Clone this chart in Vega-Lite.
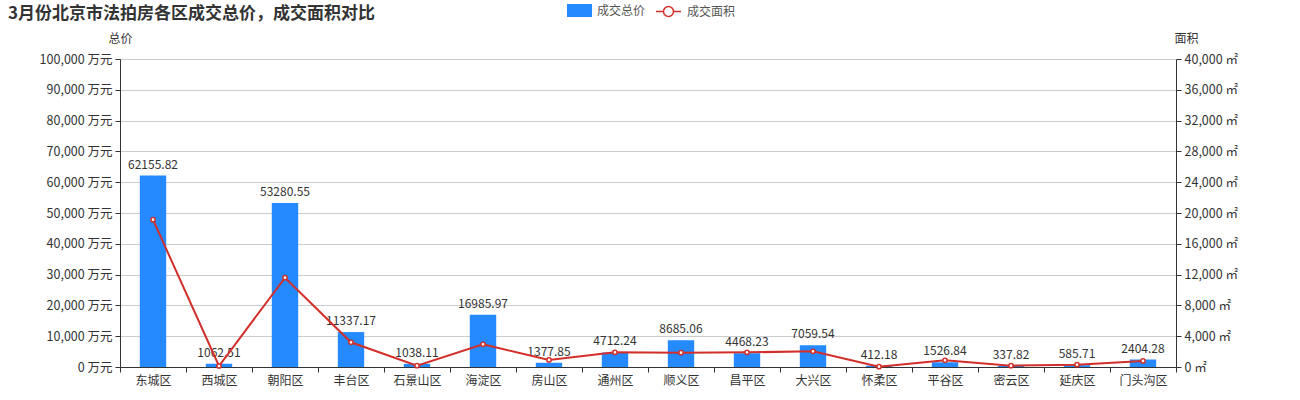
{
  "$schema": "https://vega.github.io/schema/vega-lite/v6.json",
  "width": 1056,
  "height": 308,
  "autosize": "none",
  "padding": {"left": 120, "top": 59, "right": 124, "bottom": 33},
  "background": "white",
  "title": {
    "text": "3月份北京市法拍房各区成交总价，成交面积对比",
    "anchor": "start",
    "frame": "group",
    "dx": -112,
    "dy": 29,
    "fontSize": 17,
    "fontWeight": "bold",
    "color": "#333333",
    "font": "Noto Sans CJK SC"
  },
  "config": {
    "font": "Noto Sans CJK SC",
    "view": {"stroke": null},
    "axis": {"labelFont": "Noto Sans CJK SC", "titleFont": "Noto Sans CJK SC"}
  },
  "data": {
    "values": [
      {"district": "东城区", "price": 62155.82, "area": 19130},
      {"district": "西城区", "price": 1062.51, "area": 130},
      {"district": "朝阳区", "price": 53280.55, "area": 11600},
      {"district": "丰台区", "price": 11337.17, "area": 3210},
      {"district": "石景山区", "price": 1038.11, "area": 170},
      {"district": "海淀区", "price": 16985.97, "area": 2950},
      {"district": "房山区", "price": 1377.85, "area": 910},
      {"district": "通州区", "price": 4712.24, "area": 1900},
      {"district": "顺义区", "price": 8685.06, "area": 1860},
      {"district": "昌平区", "price": 4468.23, "area": 1900},
      {"district": "大兴区", "price": 7059.54, "area": 2040},
      {"district": "怀柔区", "price": 412.18, "area": 40},
      {"district": "平谷区", "price": 1526.84, "area": 870},
      {"district": "密云区", "price": 337.82, "area": 170},
      {"district": "延庆区", "price": 585.71, "area": 300},
      {"district": "门头沟区", "price": 2404.28, "area": 780}
    ]
  },
  "encoding": {
    "x": {
      "field": "district",
      "type": "nominal",
      "sort": null,
      "scale": {"paddingInner": 0, "paddingOuter": 0},
      "axis": {
        "title": null,
        "labelAngle": 0,
        "labelFontSize": 12,
        "labelColor": "#333333",
        "labelPadding": 3,
        "labelOverlap": false,
        "domainColor": "#333333",
        "tickColor": "#333333",
        "tickSize": 5,
        "tickBand": "extent",
        "grid": false
      }
    }
  },
  "layer": [
    {
      "encoding": {
        "y": {
          "field": "price",
          "type": "quantitative",
          "scale": {"domain": [0, 100000], "nice": false},
          "axis": {
            "title": "总价",
            "titleAngle": 0,
            "titleX": 0,
            "titleY": -21,
            "titleAlign": "center",
            "titleBaseline": "middle",
            "titleFontSize": 12,
            "titleFontWeight": "normal",
            "titleColor": "#333333",
            "values": [0, 10000, 20000, 30000, 40000, 50000, 60000, 70000, 80000, 90000, 100000],
            "labelExpr": "format(datum.value, ',') + ' 万元'",
            "labelOverlap": false,
            "labelFontSize": 12.5,
            "labelColor": "#333333",
            "labelPadding": 3,
            "domainColor": "#333333",
            "tickColor": "#333333",
            "tickSize": 5,
            "grid": true,
            "gridColor": "#cccccc"
          }
        }
      },
      "layer": [
        {
          "mark": {"type": "bar", "width": {"band": 0.4}},
          "encoding": {
            "fill": {
              "datum": "成交总价",
              "type": "nominal",
              "scale": {"domain": ["成交总价"], "range": ["#2589ff"]},
              "legend": {
                "title": null,
                "orient": "none",
                "legendX": 447,
                "legendY": -61,
                "labelFontSize": 12,
                "labelColor": "#555555",
                "labelOffset": 5,
                "symbolType": "M-1,-0.52L1,-0.52L1,0.52L-1,0.52Z",
                "symbolSize": 625,
                "symbolStrokeWidth": 0,
                "symbolOpacity": 1
              }
            }
          }
        },
        {
          "mark": {"type": "text", "baseline": "bottom", "dy": -4, "fontSize": 12, "color": "#333333"},
          "encoding": {
            "text": {"field": "price", "type": "quantitative", "format": ".2f"}
          }
        }
      ]
    },
    {
      "encoding": {
        "y": {
          "field": "area",
          "type": "quantitative",
          "scale": {"domain": [0, 40000], "nice": false},
          "axis": {
            "orient": "right",
            "title": "面积",
            "titleAngle": 0,
            "titleX": 10,
            "titleY": -21,
            "titleAlign": "center",
            "titleBaseline": "middle",
            "titleFontSize": 12,
            "titleFontWeight": "normal",
            "titleColor": "#333333",
            "values": [0, 4000, 8000, 12000, 16000, 20000, 24000, 28000, 32000, 36000, 40000],
            "labelExpr": "format(datum.value, ',') + ' ㎡'",
            "labelOverlap": false,
            "labelFontSize": 12.5,
            "labelColor": "#333333",
            "labelPadding": 3,
            "domainColor": "#333333",
            "tickColor": "#333333",
            "tickSize": 5,
            "grid": false
          }
        }
      },
      "layer": [
        {
          "mark": {"type": "line", "strokeWidth": 2},
          "encoding": {
            "stroke": {
              "datum": "成交面积",
              "type": "nominal",
              "scale": {"domain": ["成交面积"], "range": ["#d22f2a"]},
              "legend": {
                "title": null,
                "orient": "none",
                "legendX": 535,
                "legendY": -61,
                "labelFontSize": 12,
                "labelColor": "#555555",
                "labelOffset": 5,
                "symbolType": "M-1,0L-0.4,0M0.4,0L1,0M-0.4,0A0.4,0.4 0 1,1 0.4,0A0.4,0.4 0 1,1 -0.4,0",
                "symbolSize": 625,
                "symbolFillColor": "#ffffff",
                "symbolStrokeWidth": 1.5,
                "symbolOpacity": 1
              }
            }
          }
        },
        {
          "mark": {"type": "point", "filled": true, "fill": "#ffffff", "stroke": "#d22f2a", "strokeWidth": 1.5, "size": 18, "opacity": 1}
        }
      ]
    }
  ],
  "resolve": {"scale": {"y": "independent", "fill": "independent", "stroke": "independent"}}
}
